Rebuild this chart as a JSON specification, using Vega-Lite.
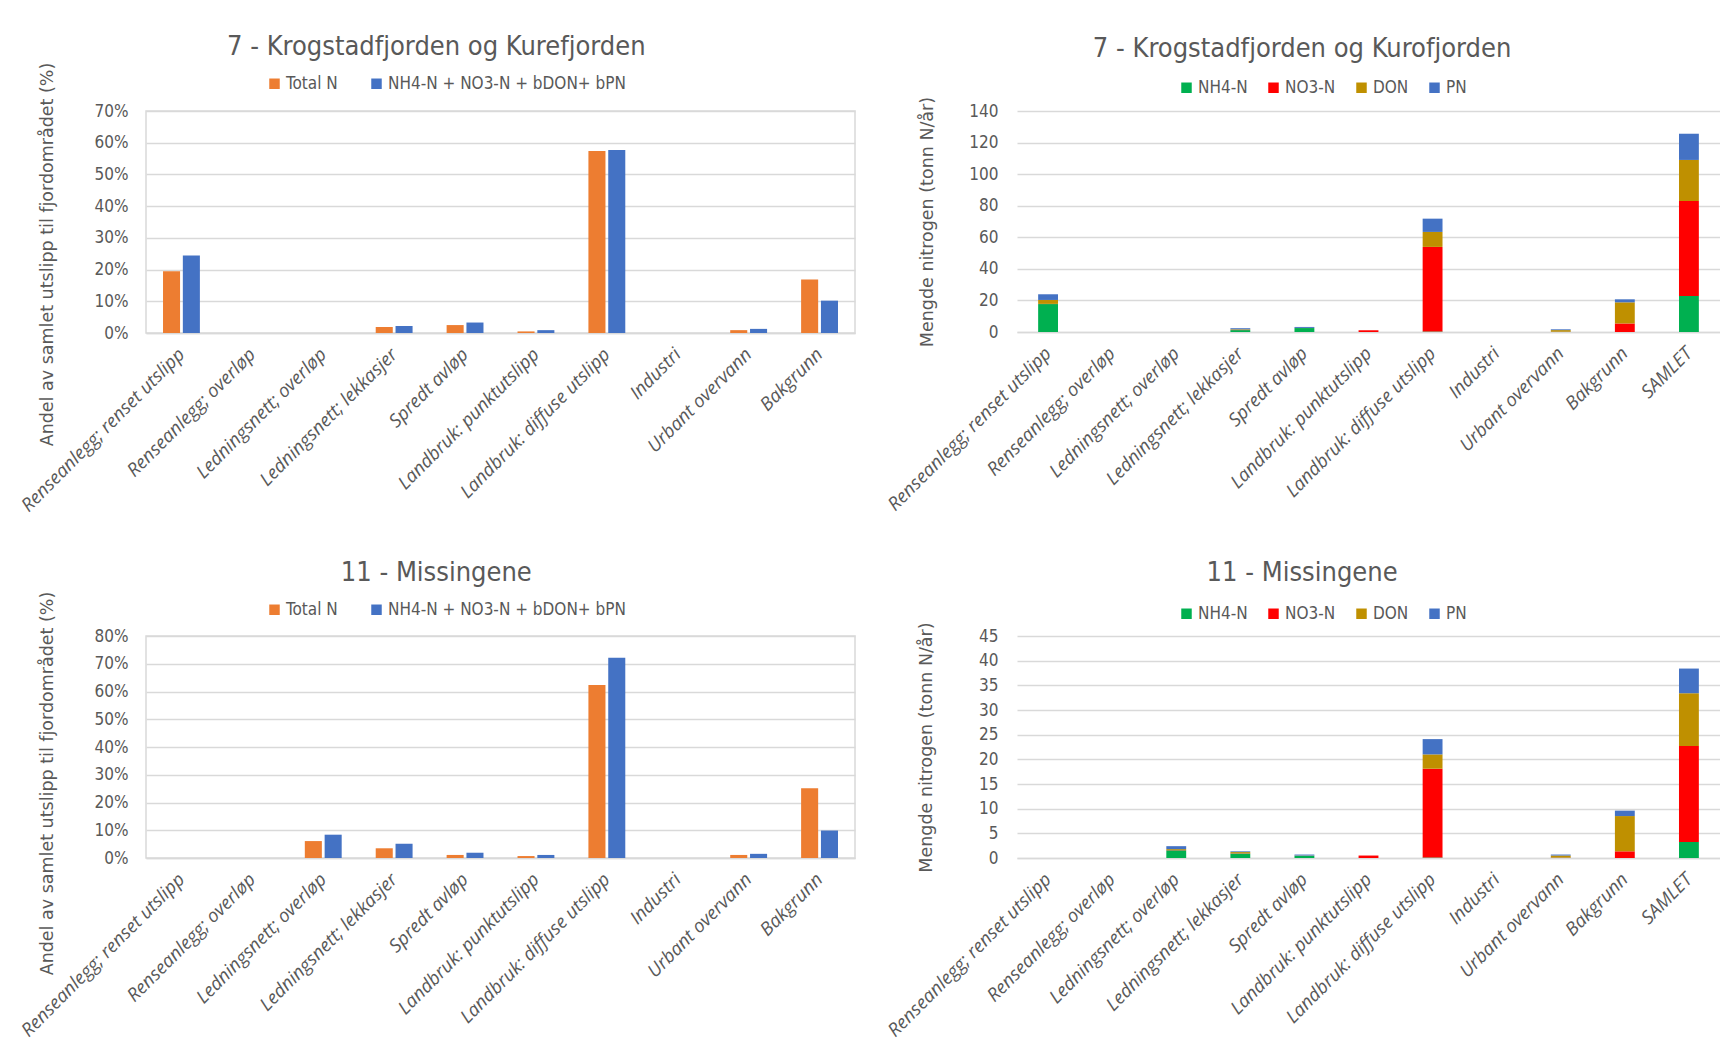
{
  "$schema": "https://vega.github.io/schema/vega-lite/v6.json",
  "background": "white",
  "padding": {"left": 16, "top": 32, "right": 0, "bottom": 0},
  "config": {
    "view": {"stroke": null},
    "axis": {"labelColor": "#595959", "titleColor": "#595959", "gridColor": "#D9D9D9", "domainColor": "#D9D9D9", "tickColor": "#D9D9D9"},
    "axisX": {"title": null, "labelAngle": -45, "labelAlign": "right", "labelBaseline": "middle", "ticks": false, "labelPadding": 18, "domainWidth": 1.5, "labelFont": "Open Sans", "labelFontStyle": "italic", "labelFontSize": 18.5, "labelLimit": 400, "grid": false},
    "axisY": {"grid": true, "gridWidth": 1.5, "ticks": false, "domain": false, "labelPadding": 18, "labelFont": "Liberation Sans Narrow, DejaVu Sans Condensed, sans-serif", "labelFontSize": 17, "titleFont": "DejaVu Sans", "titleFontSize": 17.5, "titleFontWeight": "normal", "titlePadding": 38},
    "title": {"font": "Liberation Sans Narrow, DejaVu Sans Condensed, sans-serif", "fontSize": 27, "fontWeight": "normal", "color": "#595959", "anchor": "middle", "frame": "bounds"},
    "legend": {"labelFont": "Liberation Sans Narrow, DejaVu Sans Condensed, sans-serif", "labelFontSize": 17, "labelColor": "#595959", "labelLimit": 400, "symbolType": "square", "symbolSize": 110, "symbolStrokeWidth": 0, "direction": "horizontal", "orient": "none", "title": null, "labelOffset": 3}
  },
  "datasets": {
    "andel7": [
      {"kategori": "Renseanlegg; renset utslipp", "serie": "Total N", "andel": 19.5},
      {"kategori": "Renseanlegg; overløp", "serie": "Total N", "andel": 0},
      {"kategori": "Ledningsnett; overløp", "serie": "Total N", "andel": 0},
      {"kategori": "Ledningsnett; lekkasjer", "serie": "Total N", "andel": 1.9},
      {"kategori": "Spredt avløp", "serie": "Total N", "andel": 2.5},
      {"kategori": "Landbruk: punktutslipp", "serie": "Total N", "andel": 0.5},
      {"kategori": "Landbruk: diffuse utslipp", "serie": "Total N", "andel": 57.4},
      {"kategori": "Industri", "serie": "Total N", "andel": 0},
      {"kategori": "Urbant overvann", "serie": "Total N", "andel": 0.9},
      {"kategori": "Bakgrunn", "serie": "Total N", "andel": 16.9},
      {"kategori": "Renseanlegg; renset utslipp", "serie": "NH4-N + NO3-N + bDON+ bPN", "andel": 24.4},
      {"kategori": "Renseanlegg; overløp", "serie": "NH4-N + NO3-N + bDON+ bPN", "andel": 0},
      {"kategori": "Ledningsnett; overløp", "serie": "NH4-N + NO3-N + bDON+ bPN", "andel": 0},
      {"kategori": "Ledningsnett; lekkasjer", "serie": "NH4-N + NO3-N + bDON+ bPN", "andel": 2.2},
      {"kategori": "Spredt avløp", "serie": "NH4-N + NO3-N + bDON+ bPN", "andel": 3.3},
      {"kategori": "Landbruk: punktutslipp", "serie": "NH4-N + NO3-N + bDON+ bPN", "andel": 0.9},
      {"kategori": "Landbruk: diffuse utslipp", "serie": "NH4-N + NO3-N + bDON+ bPN", "andel": 57.7},
      {"kategori": "Industri", "serie": "NH4-N + NO3-N + bDON+ bPN", "andel": 0},
      {"kategori": "Urbant overvann", "serie": "NH4-N + NO3-N + bDON+ bPN", "andel": 1.3},
      {"kategori": "Bakgrunn", "serie": "NH4-N + NO3-N + bDON+ bPN", "andel": 10.2}
    ],
    "andel11": [
      {"kategori": "Renseanlegg; renset utslipp", "serie": "Total N", "andel": 0},
      {"kategori": "Renseanlegg; overløp", "serie": "Total N", "andel": 0},
      {"kategori": "Ledningsnett; overløp", "serie": "Total N", "andel": 6.1},
      {"kategori": "Ledningsnett; lekkasjer", "serie": "Total N", "andel": 3.5},
      {"kategori": "Spredt avløp", "serie": "Total N", "andel": 1.1},
      {"kategori": "Landbruk: punktutslipp", "serie": "Total N", "andel": 0.7},
      {"kategori": "Landbruk: diffuse utslipp", "serie": "Total N", "andel": 62.3},
      {"kategori": "Industri", "serie": "Total N", "andel": 0},
      {"kategori": "Urbant overvann", "serie": "Total N", "andel": 1.1},
      {"kategori": "Bakgrunn", "serie": "Total N", "andel": 25.1},
      {"kategori": "Renseanlegg; renset utslipp", "serie": "NH4-N + NO3-N + bDON+ bPN", "andel": 0},
      {"kategori": "Renseanlegg; overløp", "serie": "NH4-N + NO3-N + bDON+ bPN", "andel": 0},
      {"kategori": "Ledningsnett; overløp", "serie": "NH4-N + NO3-N + bDON+ bPN", "andel": 8.4},
      {"kategori": "Ledningsnett; lekkasjer", "serie": "NH4-N + NO3-N + bDON+ bPN", "andel": 5.1},
      {"kategori": "Spredt avløp", "serie": "NH4-N + NO3-N + bDON+ bPN", "andel": 1.9},
      {"kategori": "Landbruk: punktutslipp", "serie": "NH4-N + NO3-N + bDON+ bPN", "andel": 1.1},
      {"kategori": "Landbruk: diffuse utslipp", "serie": "NH4-N + NO3-N + bDON+ bPN", "andel": 72.2},
      {"kategori": "Industri", "serie": "NH4-N + NO3-N + bDON+ bPN", "andel": 0},
      {"kategori": "Urbant overvann", "serie": "NH4-N + NO3-N + bDON+ bPN", "andel": 1.5},
      {"kategori": "Bakgrunn", "serie": "NH4-N + NO3-N + bDON+ bPN", "andel": 9.9}
    ],
    "mengde7": [
      {"kategori": "Renseanlegg; renset utslipp", "komponent": "NH4-N", "tonn": 17.7},
      {"kategori": "Renseanlegg; renset utslipp", "komponent": "NO3-N", "tonn": 0.1},
      {"kategori": "Renseanlegg; renset utslipp", "komponent": "DON", "tonn": 2.5},
      {"kategori": "Renseanlegg; renset utslipp", "komponent": "PN", "tonn": 3.6},
      {"kategori": "Ledningsnett; lekkasjer", "komponent": "NH4-N", "tonn": 1.2},
      {"kategori": "Ledningsnett; lekkasjer", "komponent": "NO3-N", "tonn": 0.1},
      {"kategori": "Ledningsnett; lekkasjer", "komponent": "DON", "tonn": 0.4},
      {"kategori": "Ledningsnett; lekkasjer", "komponent": "PN", "tonn": 0.7},
      {"kategori": "Spredt avløp", "komponent": "NH4-N", "tonn": 2.5},
      {"kategori": "Spredt avløp", "komponent": "DON", "tonn": 0.1},
      {"kategori": "Spredt avløp", "komponent": "PN", "tonn": 0.6},
      {"kategori": "Landbruk: punktutslipp", "komponent": "NO3-N", "tonn": 1.1},
      {"kategori": "Landbruk: diffuse utslipp", "komponent": "NH4-N", "tonn": 0.3},
      {"kategori": "Landbruk: diffuse utslipp", "komponent": "NO3-N", "tonn": 53.6},
      {"kategori": "Landbruk: diffuse utslipp", "komponent": "DON", "tonn": 9.5},
      {"kategori": "Landbruk: diffuse utslipp", "komponent": "PN", "tonn": 8.4},
      {"kategori": "Urbant overvann", "komponent": "NH4-N", "tonn": 0.1},
      {"kategori": "Urbant overvann", "komponent": "NO3-N", "tonn": 0.1},
      {"kategori": "Urbant overvann", "komponent": "DON", "tonn": 1.0},
      {"kategori": "Urbant overvann", "komponent": "PN", "tonn": 0.5},
      {"kategori": "Bakgrunn", "komponent": "NO3-N", "tonn": 5.4},
      {"kategori": "Bakgrunn", "komponent": "DON", "tonn": 13.4},
      {"kategori": "Bakgrunn", "komponent": "PN", "tonn": 1.9},
      {"kategori": "SAMLET", "komponent": "NH4-N", "tonn": 22.8},
      {"kategori": "SAMLET", "komponent": "NO3-N", "tonn": 60.2},
      {"kategori": "SAMLET", "komponent": "DON", "tonn": 26.0},
      {"kategori": "SAMLET", "komponent": "PN", "tonn": 16.6}
    ],
    "mengde11": [
      {"kategori": "Ledningsnett; overløp", "komponent": "NH4-N", "tonn": 1.55},
      {"kategori": "Ledningsnett; overløp", "komponent": "NO3-N", "tonn": 0.05},
      {"kategori": "Ledningsnett; overløp", "komponent": "DON", "tonn": 0.2},
      {"kategori": "Ledningsnett; overløp", "komponent": "PN", "tonn": 0.6},
      {"kategori": "Ledningsnett; lekkasjer", "komponent": "NH4-N", "tonn": 0.9},
      {"kategori": "Ledningsnett; lekkasjer", "komponent": "NO3-N", "tonn": 0.05},
      {"kategori": "Ledningsnett; lekkasjer", "komponent": "DON", "tonn": 0.25},
      {"kategori": "Ledningsnett; lekkasjer", "komponent": "PN", "tonn": 0.15},
      {"kategori": "Spredt avløp", "komponent": "NH4-N", "tonn": 0.45},
      {"kategori": "Spredt avløp", "komponent": "DON", "tonn": 0.05},
      {"kategori": "Spredt avløp", "komponent": "PN", "tonn": 0.2},
      {"kategori": "Landbruk: punktutslipp", "komponent": "NO3-N", "tonn": 0.5},
      {"kategori": "Landbruk: diffuse utslipp", "komponent": "NH4-N", "tonn": 0.1},
      {"kategori": "Landbruk: diffuse utslipp", "komponent": "NO3-N", "tonn": 18.0},
      {"kategori": "Landbruk: diffuse utslipp", "komponent": "DON", "tonn": 2.9},
      {"kategori": "Landbruk: diffuse utslipp", "komponent": "PN", "tonn": 3.1},
      {"kategori": "Urbant overvann", "komponent": "NH4-N", "tonn": 0.05},
      {"kategori": "Urbant overvann", "komponent": "NO3-N", "tonn": 0.05},
      {"kategori": "Urbant overvann", "komponent": "DON", "tonn": 0.4},
      {"kategori": "Urbant overvann", "komponent": "PN", "tonn": 0.2},
      {"kategori": "Bakgrunn", "komponent": "NO3-N", "tonn": 1.35},
      {"kategori": "Bakgrunn", "komponent": "DON", "tonn": 7.15},
      {"kategori": "Bakgrunn", "komponent": "PN", "tonn": 1.1},
      {"kategori": "SAMLET", "komponent": "NH4-N", "tonn": 3.25},
      {"kategori": "SAMLET", "komponent": "NO3-N", "tonn": 19.45},
      {"kategori": "SAMLET", "komponent": "DON", "tonn": 10.7},
      {"kategori": "SAMLET", "komponent": "PN", "tonn": 5.0}
    ]
  },
  "spacing": 42,
  "resolve": {"scale": {"color": "independent", "x": "independent", "y": "independent"}, "legend": {"color": "independent"}},
  "vconcat": [
    {
      "spacing": 28,
      "resolve": {"scale": {"color": "independent", "x": "independent", "y": "independent"}, "legend": {"color": "independent"}},
      "hconcat": [
        {
          "width": 709, "height": 222,
          "view": {"stroke": "#D9D9D9", "strokeWidth": 1.5},
          "title": {"text": "7 - Krogstadfjorden og Kurefjorden", "offset": 1},
          "data": {"name": "andel7"},
          "mark": {"type": "bar"},
          "encoding": {
            "x": {"field": "kategori", "type": "nominal", "scale": {"domain": ["Renseanlegg; renset utslipp", "Renseanlegg; overløp", "Ledningsnett; overløp", "Ledningsnett; lekkasjer", "Spredt avløp", "Landbruk: punktutslipp", "Landbruk: diffuse utslipp", "Industri", "Urbant overvann", "Bakgrunn"], "paddingInner": 0.48, "paddingOuter": 0.24}},
            "xOffset": {"field": "serie", "type": "nominal", "scale": {"domain": ["Total N", "NH4-N + NO3-N + bDON+ bPN"], "paddingInner": 0.14}},
            "y": {"field": "andel", "type": "quantitative", "scale": {"domain": [0, 70]}, "axis": {"values": [0, 10, 20, 30, 40, 50, 60, 70], "labelExpr": "datum.value + '%'", "title": "Andel av samlet utslipp til fjordområdet (%)", "titleY": 143}},
            "color": {"field": "serie", "type": "nominal", "scale": {"domain": ["Total N", "NH4-N + NO3-N + bDON+ bPN"], "range": ["#ED7D31", "#4472C4"]}, "legend": {"legendX": 120, "legendY": -36, "columnPadding": 30}}
          }
        },
        {
          "width": 703, "height": 221,
          "title": {"text": "7 - Krogstadfjorden og Kurofjorden", "offset": 16},
          "data": {"name": "mengde7"},
          "transform": [{"calculate": "indexof(['NH4-N', 'NO3-N', 'DON', 'PN'], datum.komponent)", "as": "stablerekkefølge"}],
          "mark": {"type": "bar"},
          "encoding": {
            "x": {"field": "kategori", "type": "nominal", "scale": {"domain": ["Renseanlegg; renset utslipp", "Renseanlegg; overløp", "Ledningsnett; overløp", "Ledningsnett; lekkasjer", "Spredt avløp", "Landbruk: punktutslipp", "Landbruk: diffuse utslipp", "Industri", "Urbant overvann", "Bakgrunn", "SAMLET"], "paddingInner": 0.69, "paddingOuter": 0.33}},
            "y": {"field": "tonn", "type": "quantitative", "stack": "zero", "scale": {"domain": [0, 140]}, "axis": {"values": [0, 20, 40, 60, 80, 100, 120, 140], "title": "Mengde nitrogen (tonn N/år)", "titlePadding": 32, "labelPadding": 19}},
            "order": {"field": "stablerekkefølge", "type": "quantitative", "sort": "ascending"},
            "color": {"field": "komponent", "type": "nominal", "scale": {"domain": ["NH4-N", "NO3-N", "DON", "PN"], "range": ["#00B050", "#FF0000", "#BF9000", "#4472C4"]}, "legend": {"legendX": 161, "legendY": -32, "columnPadding": 17}}
          }
        }
      ]
    },
    {
      "spacing": 28,
      "resolve": {"scale": {"color": "independent", "x": "independent", "y": "independent"}, "legend": {"color": "independent"}},
      "hconcat": [
        {
          "width": 709, "height": 222,
          "view": {"stroke": "#D9D9D9", "strokeWidth": 1.5},
          "title": {"text": "11 - Missingene", "offset": 4},
          "data": {"name": "andel11"},
          "mark": {"type": "bar"},
          "encoding": {
            "x": {"field": "kategori", "type": "nominal", "scale": {"domain": ["Renseanlegg; renset utslipp", "Renseanlegg; overløp", "Ledningsnett; overløp", "Ledningsnett; lekkasjer", "Spredt avløp", "Landbruk: punktutslipp", "Landbruk: diffuse utslipp", "Industri", "Urbant overvann", "Bakgrunn"], "paddingInner": 0.48, "paddingOuter": 0.24}},
            "xOffset": {"field": "serie", "type": "nominal", "scale": {"domain": ["Total N", "NH4-N + NO3-N + bDON+ bPN"], "paddingInner": 0.14}},
            "y": {"field": "andel", "type": "quantitative", "scale": {"domain": [0, 80]}, "axis": {"values": [0, 10, 20, 30, 40, 50, 60, 70, 80], "labelExpr": "datum.value + '%'", "title": "Andel av samlet utslipp til fjordområdet (%)", "titleY": 147}},
            "color": {"field": "serie", "type": "nominal", "scale": {"domain": ["Total N", "NH4-N + NO3-N + bDON+ bPN"], "range": ["#ED7D31", "#4472C4"]}, "legend": {"legendX": 120, "legendY": -35, "columnPadding": 30}}
          }
        },
        {
          "width": 703, "height": 222,
          "title": {"text": "11 - Missingene", "offset": 18},
          "data": {"name": "mengde11"},
          "transform": [{"calculate": "indexof(['NH4-N', 'NO3-N', 'DON', 'PN'], datum.komponent)", "as": "stablerekkefølge"}],
          "mark": {"type": "bar"},
          "encoding": {
            "x": {"field": "kategori", "type": "nominal", "scale": {"domain": ["Renseanlegg; renset utslipp", "Renseanlegg; overløp", "Ledningsnett; overløp", "Ledningsnett; lekkasjer", "Spredt avløp", "Landbruk: punktutslipp", "Landbruk: diffuse utslipp", "Industri", "Urbant overvann", "Bakgrunn", "SAMLET"], "paddingInner": 0.69, "paddingOuter": 0.33}},
            "y": {"field": "tonn", "type": "quantitative", "stack": "zero", "scale": {"domain": [0, 45]}, "axis": {"values": [0, 5, 10, 15, 20, 25, 30, 35, 40, 45], "title": "Mengde nitrogen (tonn N/år)", "titlePadding": 43, "labelPadding": 19}},
            "order": {"field": "stablerekkefølge", "type": "quantitative", "sort": "ascending"},
            "color": {"field": "komponent", "type": "nominal", "scale": {"domain": ["NH4-N", "NO3-N", "DON", "PN"], "range": ["#00B050", "#FF0000", "#BF9000", "#4472C4"]}, "legend": {"legendX": 161, "legendY": -31, "columnPadding": 17}}
          }
        }
      ]
    }
  ]
}
